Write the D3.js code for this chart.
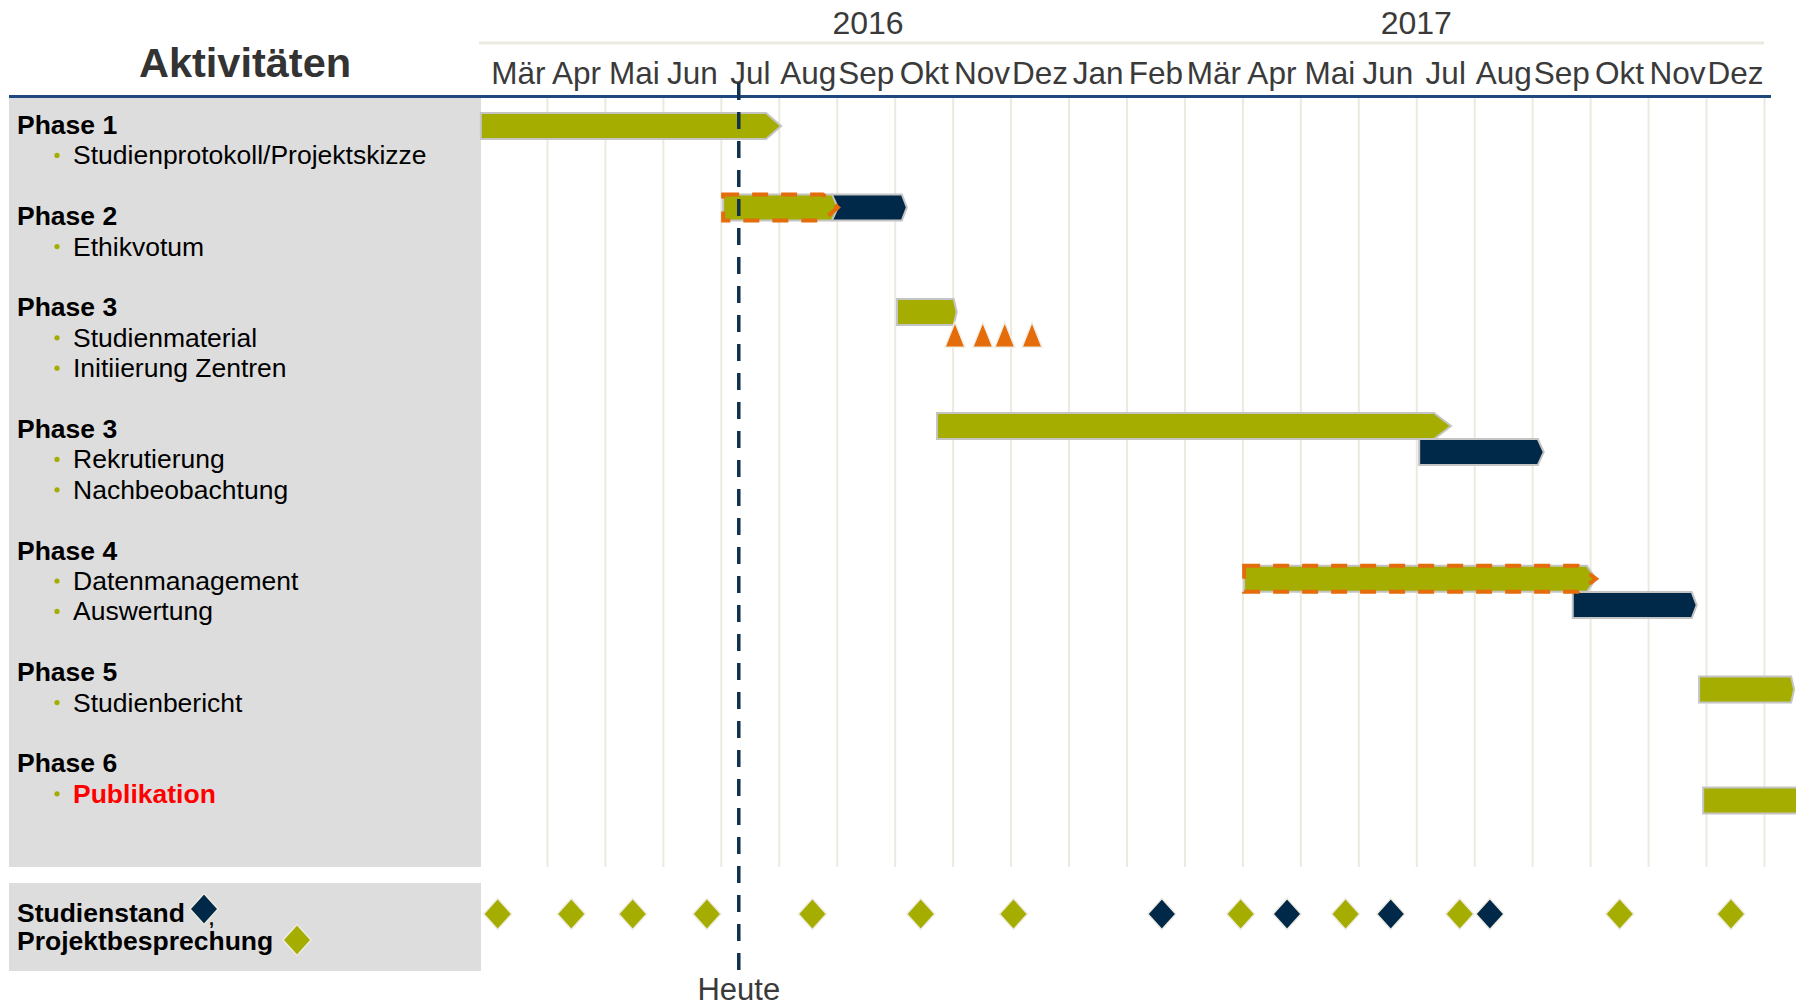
<!DOCTYPE html>
<html lang="de">
<head>
<meta charset="utf-8">
<title>Aktivitäten – Zeitplan</title>
<script src="https://cdn.jsdelivr.net/npm/d3@7"></script>
<style>
  html, body { margin: 0; padding: 0; background: #ffffff; }
  svg { display: block; font-family: "Liberation Sans", Arial, Helvetica, sans-serif; }
</style>
</head>
<body>
<svg id="chart" width="1796" height="1008"></svg>
<script>
// Time unit throughout: months since 1 March 2016 (0 = start of Mär 2016, 22 = end of Dez 2017).
const monthLabels = ["Mär", "Apr", "Mai", "Jun", "Jul", "Aug", "Sep", "Okt", "Nov", "Dez",
                     "Jan", "Feb", "Mär", "Apr", "Mai", "Jun", "Jul", "Aug", "Sep", "Okt", "Nov", "Dez"];
const yearLabels = ["2016", "2017"];
const yearLabelAt = [6.54, 16.0];

// Left-hand activity list
const phaseTitles = ["Phase 1", "Phase 2", "Phase 3", "Phase 3", "Phase 4", "Phase 5", "Phase 6"];
const phaseItems = [
  ["Studienprotokoll/Projektskizze"],
  ["Ethikvotum"],
  ["Studienmaterial", "Initiierung Zentren"],
  ["Rekrutierung", "Nachbeobachtung"],
  ["Datenmanagement", "Auswertung"],
  ["Studienbericht"],
  ["Publikation"]
];
const emphasisedItems = ["Publikation"];

// Activity bars: start, end (arrow tip) in months, row in text-line units
const activityBars = [
  { name: "Studienprotokoll/Projektskizze", start: -0.14, end: 5.04,  row: 0.03 },
  { name: "Ethikvotum",                      start: 4.04,  end: 6.02,  row: 2.71 },
  { name: "Studienmaterial",                 start: 7.04,  end: 8.07,  row: 6.15 },
  { name: "Rekrutierung",                    start: 7.73,  end: 16.60, row: 9.90 },
  { name: "Datenmanagement",                 start: 13.03, end: 19.10, row: 14.93 },
  { name: "Studienbericht",                  start: 20.88, end: 22.52, row: 18.57 },
  { name: "Publikation",                     start: 20.95, end: 22.65, row: 22.22 }
];
// Follow-up bars (dark)
const followUpBars = [
  { name: "Ethikvotum (Nachreichung)", start: 5.92,  end: 7.21,  row: 2.71 },
  { name: "Nachbeobachtung",           start: 16.05, end: 18.20, row: 10.76 },
  { name: "Auswertung",                start: 18.70, end: 20.84, row: 15.79 }
];
// Activities still in progress get a dashed outline
const inProgress = ["Ethikvotum", "Datenmanagement"];

// Initiierung der Zentren (one marker per centre)
const centreStarts = [8.04, 8.52, 8.90, 9.37];
const centreRow = 6.9;

// Milestones in the bottom strip
const studienstand = [11.61, 13.77, 15.56, 17.27];
const projektbesprechung = [0.15, 1.42, 2.48, 3.76, 5.58, 7.45, 9.05, 12.97, 14.78, 16.75, 19.51, 21.43];

// Today marker
const heute = 4.31;

// ---- styling ----
const GREEN = "#A4AD00";
const NAVY = "#002949";
const ORANGE = "#E46C0A";
const GRID = "#ECEAE0";
const TEXT_GREY = "#3a3a3a";
const activityTip = [15, 6, 3, 17, 9, 3, 3];
const followUpTip = [5, 6, 5];

const svg = d3.select("#chart");
const x = d3.scaleLinear().domain([0, 22]).range([489, 1764]);
// text-line baselines of the activity list
const lineY = d3.scaleLinear().domain([0, 22]).range([134, 134 + 22 * 30.4]);
const rowCenter = r => lineY(r) - 9;
const BAR_H = 26;

// Background panels
svg.append("rect").attr("x", 9).attr("y", 98).attr("width", 472).attr("height", 769).attr("fill", "#DDDDDD");
svg.append("rect").attr("x", 9).attr("y", 883).attr("width", 472).attr("height", 88).attr("fill", "#DDDDDD");

// Month grid
const gridAxis = d3.axisBottom(x).tickValues(d3.range(1, 23)).tickSize(770).tickFormat("");
svg.append("g").attr("transform", "translate(0,97)").call(gridAxis)
  .call(g => g.select(".domain").remove())
  .selectAll("line").attr("stroke", GRID).attr("stroke-width", 2);

// Year row
svg.append("line").attr("x1", x.range()[0] - 10).attr("x2", x.range()[1])
  .attr("y1", 43).attr("y2", 43).attr("stroke", GRID).attr("stroke-width", 3);
svg.selectAll("text.year").data(yearLabels).join("text").attr("class", "year")
  .attr("x", (d, i) => x(yearLabelAt[i])).attr("y", 34)
  .attr("text-anchor", "middle").attr("font-size", 32).attr("fill", TEXT_GREY).text(d => d);

// Month labels
const monthAxis = d3.axisTop(x).tickValues(d3.range(22).map(i => i + 0.5))
  .tickFormat((d, i) => monthLabels[i]).tickSize(0).tickPadding(0);
svg.append("g").attr("transform", "translate(0,84)").call(monthAxis)
  .attr("font-family", null).attr("font-size", null)
  .call(g => g.select(".domain").remove())
  .call(g => g.selectAll("line").remove())
  .selectAll("text").attr("font-size", 31.5).attr("fill", TEXT_GREY);

// Header
svg.append("text").attr("x", 245).attr("y", 77).attr("text-anchor", "middle")
  .attr("font-size", 41.5).attr("font-weight", "bold").attr("fill", "#333333").text("Aktivitäten");
svg.append("line").attr("x1", 9).attr("x2", 1771).attr("y1", 96.5).attr("y2", 96.5)
  .attr("stroke", "#1F497D").attr("stroke-width", 3);

// Activity list
const listLines = [];
let k = 0;
phaseTitles.forEach((title, p) => {
  listLines.push({ text: title, line: k, title: true });
  phaseItems[p].forEach((item, j) => listLines.push({ text: item, line: k + 1 + j, title: false }));
  k += phaseItems[p].length + 2;
});
const list = svg.append("g");
list.selectAll("text").data(listLines).join("text")
  .attr("x", d => d.title ? 17 : 73).attr("y", d => lineY(d.line))
  .attr("font-size", 26.5)
  .attr("font-weight", d => (d.title || emphasisedItems.includes(d.text)) ? "bold" : "normal")
  .attr("fill", d => emphasisedItems.includes(d.text) ? "#FF0000" : "#000000")
  .text(d => d.text);
list.selectAll("circle").data(listLines.filter(d => !d.title)).join("circle")
  .attr("cx", 57).attr("cy", d => lineY(d.line) - 9).attr("r", 2.6).attr("fill", GREEN);

// Arrow-ended bar outline
function chevron(d, tip) {
  const x0 = x(d.start), x1 = x(d.end), c = rowCenter(d.row), h = BAR_H / 2;
  const p = d3.path();
  p.moveTo(x0, c - h); p.lineTo(x1 - tip, c - h); p.lineTo(x1, c);
  p.lineTo(x1 - tip, c + h); p.lineTo(x0, c + h); p.closePath();
  return p.toString();
}

const bars = svg.append("g");
bars.selectAll("path.follow").data(followUpBars).join("path").attr("class", "follow")
  .attr("d", (d, i) => chevron(d, followUpTip[i]))
  .attr("fill", NAVY).attr("stroke", "#C4C4C4").attr("stroke-width", 2);
bars.selectAll("path.act").data(activityBars).join("path").attr("class", "act")
  .attr("d", (d, i) => chevron(d, activityTip[i]))
  .attr("fill", GREEN).attr("stroke", "#C4C4C4").attr("stroke-width", 2);
bars.selectAll("path.progress").data(activityBars.filter(d => inProgress.includes(d.name))).join("path")
  .attr("class", "progress")
  .attr("d", d => chevron(d, activityTip[activityBars.indexOf(d)] + 9))
  .attr("fill", "none").attr("stroke", ORANGE).attr("stroke-width", 4).attr("stroke-dasharray", "16,13");

// Centre initiation markers
svg.append("g").selectAll("path").data(centreStarts).join("path")
  .attr("d", d => {
    const cx = x(d), cy = rowCenter(centreRow);
    return `M${cx},${cy - 12.5}L${cx + 10},${cy + 12.5}L${cx - 10},${cy + 12.5}Z`;
  })
  .attr("fill", ORANGE).attr("stroke", "#F1EEE4").attr("stroke-width", 1.5);

// Milestones
const diamond = (cx, cy) => `M${cx},${cy - 15.5}L${cx + 14},${cy}L${cx},${cy + 15.5}L${cx - 14},${cy}Z`;
const MILESTONE_Y = 914;
const ms = svg.append("g");
ms.selectAll("path.pb").data(projektbesprechung).join("path").attr("class", "pb")
  .attr("d", d => diamond(x(d), MILESTONE_Y)).attr("fill", GREEN).attr("stroke", "#EEEBE0").attr("stroke-width", 1.5);
ms.selectAll("path.ss").data(studienstand).join("path").attr("class", "ss")
  .attr("d", d => diamond(x(d), MILESTONE_Y)).attr("fill", NAVY).attr("stroke", "#EEEBE0").attr("stroke-width", 1.5);

// Legend
const legend = svg.append("g").attr("font-size", 26.5).attr("font-weight", "bold").attr("fill", "#000");
legend.append("text").attr("x", 17).attr("y", 922).text("Studienstand");
legend.append("path").attr("d", diamond(204, 909)).attr("fill", NAVY).attr("stroke", "#EEEBE0").attr("stroke-width", 1.5);
legend.append("text").attr("x", 209).attr("y", 925).attr("font-size", 18).text(",");
legend.append("text").attr("x", 17).attr("y", 950).text("Projektbesprechung");
legend.append("path").attr("d", diamond(297, 940)).attr("fill", GREEN).attr("stroke", "#EEEBE0").attr("stroke-width", 1.5);

// Today line
svg.append("line").attr("x1", x(heute)).attr("x2", x(heute)).attr("y1", 83).attr("y2", 970)
  .attr("stroke", "#10304F").attr("stroke-width", 3.5).attr("stroke-dasharray", "17,12");
svg.append("text").attr("x", x(heute)).attr("y", 1000).attr("text-anchor", "middle")
  .attr("font-size", 31).attr("fill", TEXT_GREY).text("Heute");
</script>
</body>
</html>
